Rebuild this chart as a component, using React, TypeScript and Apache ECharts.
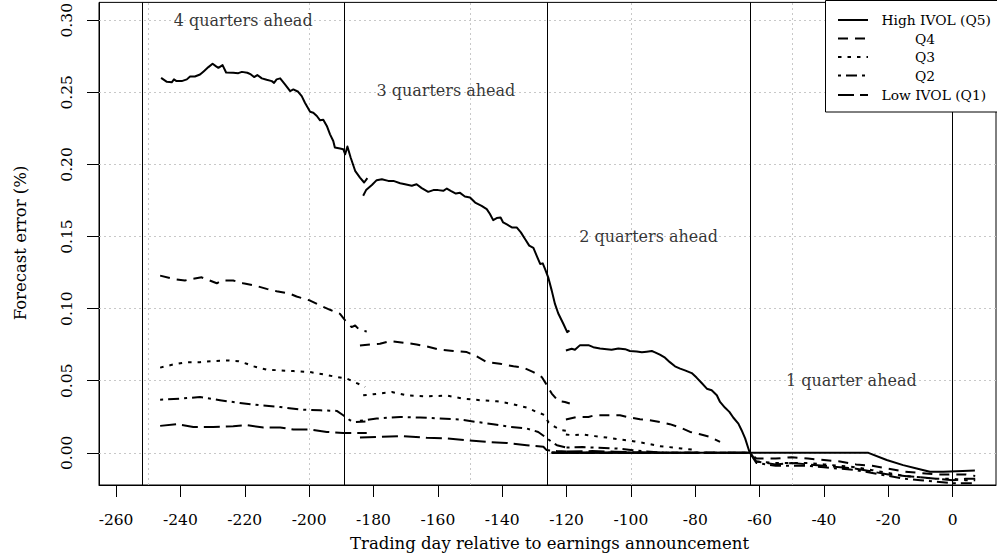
import React, { useEffect, useRef } from 'react';
import * as echarts from 'echarts';

const FONT = "'DejaVu Serif', serif";

// axis ticks, grid lines and quarter boundaries (trading days)
const X_TICKS = [-260, -240, -220, -200, -180, -160, -140, -120, -100, -80, -60, -40, -20, 0];
const X_GRID = [-250, -200, -150, -100, -50, 0];
const Y_TICKS = [0, 0.05, 0.1, 0.15, 0.2, 0.25, 0.3];
const QUARTER_BOUNDS = [-252, -189, -126, -63, 0];

const ANNOT_TEXT = ['4 quarters ahead', '3 quarters ahead', '2 quarters ahead', '1 quarter ahead'];
const ANNOT_X = [-220.5, -157.5, -94.5, -31.5];
const ANNOT_Y = [0.3, 0.251, 0.15, 0.05];

// High IVOL (Q5)
const q5A = [[-246, 0.26], [-244.2, 0.2573], [-242.7, 0.257], [-242, 0.259], [-241.2, 0.2578], [-239.6, 0.2578], [-238, 0.259], [-237, 0.261], [-235.5, 0.261], [-233.9, 0.2624], [-232.7, 0.2647], [-231.3, 0.2675], [-230, 0.2698], [-228.9, 0.268], [-228.2, 0.267], [-226.9, 0.2689], [-225.8, 0.2638], [-223.6, 0.2636], [-222, 0.2633], [-220.9, 0.2642], [-219.2, 0.2636], [-218.1, 0.2624], [-217.1, 0.2606], [-216.1, 0.262], [-214.7, 0.2597], [-213.2, 0.2587], [-211.6, 0.2578], [-210.9, 0.2566], [-210.1, 0.259], [-209, 0.2597], [-207.5, 0.2555], [-205.9, 0.2509], [-204.9, 0.252], [-203.4, 0.2504], [-202.3, 0.2474], [-201.3, 0.2428], [-199.7, 0.2366], [-198.7, 0.2359], [-197.6, 0.2336], [-196.6, 0.2306], [-195.6, 0.231], [-194.5, 0.2267], [-193.5, 0.2209], [-192.5, 0.2163], [-192, 0.2117], [-190.4, 0.211], [-189.4, 0.2106], [-188.8, 0.2071], [-188.1, 0.2124], [-187.1, 0.2048], [-185.7, 0.1956], [-184.2, 0.1909], [-182.9, 0.1875], [-181.9, 0.1905]];
const q5B = [[-183.2, 0.1783], [-182.3, 0.1822], [-180.5, 0.1857], [-179, 0.1891], [-177.4, 0.1898], [-175.4, 0.1886], [-173.8, 0.1886], [-171.7, 0.187], [-170.2, 0.1863], [-168.1, 0.1852], [-166.6, 0.1863], [-165, 0.1836], [-163, 0.181], [-161.4, 0.1822], [-159.9, 0.1822], [-158.3, 0.1817], [-157.2, 0.1833], [-156, 0.1817], [-154.4, 0.1798], [-153.1, 0.1803], [-151.6, 0.1778], [-150, 0.1771], [-148.4, 0.1736], [-146.4, 0.1713], [-144.8, 0.169], [-143.8, 0.1656], [-142.8, 0.1614], [-141.7, 0.1628], [-140.5, 0.1632], [-139.7, 0.1598], [-138.4, 0.1582], [-137, 0.1563], [-135.5, 0.1563], [-134.2, 0.1529], [-132.9, 0.1483], [-131.6, 0.1437], [-130.3, 0.1421], [-129.3, 0.1368], [-128.2, 0.131], [-127.4, 0.1314], [-126.7, 0.1276], [-125.7, 0.1217], [-124.6, 0.1125], [-123.6, 0.1033], [-122.6, 0.0968], [-121, 0.0895], [-119.8, 0.0837], [-119.1, 0.0849]];
const q5C = [[-120.2, 0.071], [-118.4, 0.0722], [-117.4, 0.0715], [-115.8, 0.0747], [-113.2, 0.0747], [-111.7, 0.0733], [-109.6, 0.0724], [-107.5, 0.0719], [-106, 0.0715], [-103.9, 0.0724], [-101.8, 0.0719], [-100.3, 0.0706], [-98.2, 0.0703], [-96.6, 0.0697], [-95.1, 0.0701], [-93.5, 0.0706], [-92.5, 0.0697], [-91, 0.0681], [-89.4, 0.066], [-87.9, 0.0629], [-86.3, 0.06], [-84.7, 0.0584], [-83.2, 0.0572], [-81.1, 0.0553], [-79.6, 0.0522], [-78, 0.0484], [-76.4, 0.0445], [-74.9, 0.0434], [-73.3, 0.0399], [-72.3, 0.0353], [-70.8, 0.0314], [-69.4, 0.0284], [-68.2, 0.0245], [-66.6, 0.0203], [-65.6, 0.0157], [-64.5, 0.01], [-63.5, 0.003], [-63, -0.0004]];
const q5D = [[-124.6, 0], [-26.2, 0], [-20.5, -0.005], [-15.4, -0.0085], [-11.2, -0.0108], [-7.1, -0.0131], [-2.9, -0.0131], [1.2, -0.0127], [6.9, -0.0122]];

// Q4
const q4A = [[-246.3, 0.1229], [-242.2, 0.1206], [-238.6, 0.1195], [-236.5, 0.1206], [-233.4, 0.1217], [-231.3, 0.1199], [-228.7, 0.1176], [-227.2, 0.1195], [-223.6, 0.1195], [-220.5, 0.1176], [-216.8, 0.116], [-213.2, 0.1137], [-210.1, 0.1121], [-205.9, 0.1103], [-203.9, 0.1084], [-199.7, 0.1056], [-196.6, 0.1022], [-193.5, 0.0992], [-190.4, 0.0964], [-188.8, 0.0918], [-186.8, 0.0872], [-185.7, 0.0883], [-184.2, 0.0849], [-182.1, 0.0842]];
const q4B = [[-184.2, 0.0745], [-181.1, 0.0752], [-178, 0.0757], [-174.9, 0.0775], [-170.7, 0.0764], [-166.6, 0.0752], [-163.5, 0.0738], [-159.3, 0.0715], [-155.2, 0.0706], [-151, 0.0699], [-147.9, 0.0669], [-144.8, 0.0629], [-140.7, 0.0618], [-136.5, 0.06], [-133.4, 0.0591], [-130.3, 0.056], [-127.7, 0.0526], [-126.4, 0.048], [-124.6, 0.0411], [-122.6, 0.036], [-120.5, 0.0353], [-119, 0.0342]];
const q4C = [[-120.2, 0.0231], [-116.8, 0.0249], [-113.2, 0.0249], [-111.2, 0.0261], [-107.5, 0.0261], [-103.4, 0.0261], [-100.3, 0.0245], [-97.2, 0.0233], [-94.1, 0.0226], [-91, 0.0214], [-87.9, 0.0199], [-84.7, 0.0176], [-81.6, 0.0145], [-78.5, 0.0129], [-75.4, 0.0111], [-72.3, 0.0076]];
const q4D = [[-124.6, 0], [-63, 0], [-61, -0.004], [-55, -0.004], [-50, -0.003], [-45, -0.004], [-40, -0.005], [-35, -0.006], [-30, -0.008], [-25, -0.009], [-20, -0.011], [-15, -0.013], [-10, -0.014], [-5, -0.015], [0, -0.015], [4, -0.015], [7, -0.016]];

// Q3
const q3A = [[-246.3, 0.0591], [-242.2, 0.0613], [-238, 0.0629], [-233.9, 0.0629], [-229.8, 0.0636], [-225.6, 0.0641], [-222, 0.0636], [-219.4, 0.0618], [-217.3, 0.06], [-213.2, 0.0577], [-209, 0.0572], [-204.9, 0.0567], [-199.7, 0.056], [-195.6, 0.0544], [-191.4, 0.0526], [-188.3, 0.0515], [-185.2, 0.0484], [-182.6, 0.0457]];
const q3B = [[-183.2, 0.0399], [-180.1, 0.0406], [-174.3, 0.0422], [-169.7, 0.0399], [-163.5, 0.0392], [-157.2, 0.0397], [-152.1, 0.0376], [-146.9, 0.0365], [-141.7, 0.0358], [-137.6, 0.0342], [-132.4, 0.0314], [-129.3, 0.0284], [-126.7, 0.0261], [-125.7, 0.0214], [-123.6, 0.018], [-121.5, 0.0157], [-119, 0.015]];
const q3C = [[-120.2, 0.0127], [-117.9, 0.0122], [-114.8, 0.0127], [-111.2, 0.0116], [-107.5, 0.0106], [-103.4, 0.0093], [-99.3, 0.0081], [-95.1, 0.0065], [-91, 0.0046], [-86.8, 0.0037], [-84.2, 0.003], [-80, 0.002]];
const q3D = [[-124.6, 0], [-63, 0], [-61, -0.006], [-55, -0.007], [-50, -0.007], [-45, -0.007], [-40, -0.008], [-35, -0.009], [-30, -0.01], [-25, -0.012], [-20, -0.014], [-15, -0.016], [-10, -0.017], [-5, -0.018], [0, -0.018], [4, -0.019], [7, -0.019]];

// Q2
const q2A = [[-246.3, 0.0369], [-240.1, 0.0376], [-233.9, 0.0387], [-227.7, 0.0365], [-221.5, 0.0346], [-215.3, 0.033], [-209, 0.0318], [-202.8, 0.03], [-196.6, 0.0295], [-191.4, 0.0291], [-189.4, 0.0261], [-187.3, 0.0226], [-185.7, 0.0214], [-182.5, 0.0218]];
const q2B = [[-184.2, 0.0222], [-179, 0.0238], [-171.7, 0.0249], [-165.5, 0.0245], [-159.3, 0.0238], [-153.1, 0.0231], [-147.9, 0.0214], [-142.8, 0.0199], [-137.6, 0.018], [-132.4, 0.0169], [-128.8, 0.0145], [-126.7, 0.0111], [-124.6, 0.0076], [-123, 0.0053], [-120, 0.0037]];
const q2C = [[-120, 0.0037], [-115, 0.004], [-110, 0.0035], [-104.4, 0.003], [-100, 0.002], [-95, 0.001], [-90, 0]];
const q2D = [[-124.6, 0], [-63, 0], [-61, -0.007], [-55, -0.009], [-50, -0.009], [-45, -0.009], [-40, -0.01], [-35, -0.011], [-30, -0.012], [-25, -0.014], [-20, -0.016], [-15, -0.018], [-10, -0.019], [-5, -0.02], [0, -0.021], [4, -0.021], [7, -0.021]];

// Low IVOL (Q1)
const q1A = [[-246.3, 0.0187], [-241.1, 0.0199], [-236, 0.018], [-229.8, 0.018], [-223.6, 0.0185], [-219.4, 0.0192], [-214.2, 0.0176], [-209, 0.0176], [-204.9, 0.0162], [-199.7, 0.0162], [-194.5, 0.0145], [-189.4, 0.0138], [-185.2, 0.0138], [-182.1, 0.0138]];
const q1B = [[-184.2, 0.0106], [-178, 0.0111], [-170.7, 0.0116], [-163.5, 0.0104], [-157.2, 0.01], [-151, 0.0088], [-144.8, 0.0076], [-138.6, 0.0069], [-132.4, 0.0053], [-127.2, 0.0042], [-126.2, 0.0019], [-123, 0.0012], [-120, 0.001]];
const q1C = [[-120, 0.001], [-112, 0.0012], [-105, 0.0008], [-100, 0.0004], [-95, 0]];
const q1D = [[-124.6, 0], [-63, 0], [-61, -0.006], [-55, -0.008], [-50, -0.007], [-45, -0.008], [-40, -0.009], [-35, -0.01], [-30, -0.011], [-25, -0.013], [-20, -0.015], [-15, -0.016], [-10, -0.017], [-5, -0.018], [0, -0.019], [4, -0.018], [7, -0.018]];

const QUINTILES = [
  { name: 'High IVOL (Q5)', dash: 'solid' as any, segments: [q5A, q5B, q5C, q5D] },
  { name: 'Q4', dash: [10, 7], segments: [q4A, q4B, q4C, q4D] },
  { name: 'Q3', dash: [3.5, 6], segments: [q3A, q3B, q3C, q3D] },
  { name: 'Q2', dash: [3, 5, 11, 5], segments: [q2A, q2B, q2C, q2D] },
  { name: 'Low IVOL (Q1)', dash: [16, 6], segments: [q1A, q1B, q1C, q1D] },
];

export default function App() {
  const chartRef = useRef<HTMLDivElement>(null);

  useEffect(() => {
    if (!chartRef.current) return;
    const chart = echarts.init(chartRef.current, null, { renderer: 'svg' });

    const lineSeries: any[] = [];
    QUINTILES.forEach(q => {
      q.segments.forEach((seg, i) => {
        lineSeries.push({
          name: q.name + ' ' + i,
          type: 'line',
          data: seg,
          showSymbol: false,
          symbol: 'none',
          lineStyle: { color: '#000', width: 2, type: q.dash, cap: 'butt', join: 'round' },
          z: 5,
        });
      });
    });

    // legend drawn by hand (R style)
    const legendLeft = 825.5;
    const legendRows = [20, 38.5, 57, 75.5, 95];
    const legendGraphics: any[] = [
      {
        type: 'rect',
        shape: { x: legendLeft, y: 0.5, width: 200, height: 111.5 },
        style: { fill: '#fff', stroke: '#000', lineWidth: 1 },
        z: 100,
      },
    ];
    QUINTILES.forEach((q, i) => {
      legendGraphics.push({
        type: 'line',
        shape: { x1: 838, y1: legendRows[i], x2: 868, y2: legendRows[i] },
        style: {
          stroke: '#000',
          lineWidth: 2,
          lineDash: q.dash === 'solid' ? null : q.dash,
          lineCap: 'butt',
        },
        z: 101,
      });
      const centered = i > 0 && i < 4;
      legendGraphics.push({
        type: 'text',
        x: centered ? 925 : 881.5,
        y: legendRows[i],
        style: {
          text: q.name,
          font: `13.8px ${FONT}`,
          fill: '#000',
          textAlign: centered ? 'center' : 'left',
          textVerticalAlign: 'middle',
        },
        z: 101,
      });
    });

    const option: echarts.EChartsOption = {
      animation: false,
      backgroundColor: '#fff',
      textStyle: { fontFamily: FONT },
      grid: {
        left: 99,
        right: 1,
        top: 1,
        bottom: 73,
        show: true,
        borderColor: '#000',
        borderWidth: 1,
        backgroundColor: 'transparent',
      },
      xAxis: {
        type: 'value',
        min: -265.3,
        max: 13.46,
        axisLine: { show: true, onZero: false, lineStyle: { color: '#000', width: 1 } },
        axisTick: { show: true, length: 12, inside: false, customValues: X_TICKS, lineStyle: { color: '#000' } },
        axisLabel: {
          customValues: X_TICKS,
          color: '#000',
          fontFamily: FONT,
          fontSize: 15.5,
          margin: 27,
          formatter: (v: number) => String(v),
        },
        splitLine: { show: false },
      },
      yAxis: {
        type: 'value',
        min: -0.0223,
        max: 0.3124,
        axisLine: { show: true, onZero: false, lineStyle: { color: '#000', width: 1 } },
        axisTick: { show: true, length: 12, inside: false, customValues: Y_TICKS, lineStyle: { color: '#000' } },
        axisLabel: {
          customValues: Y_TICKS,
          color: '#000',
          fontFamily: FONT,
          fontSize: 15.5,
          rotate: 90,
          margin: 24,
          formatter: (v: number) => v.toFixed(2),
        },
        splitLine: { show: false },
      },
      graphic: [
        {
          type: 'text',
          x: 549.5,
          y: 543,
          style: {
            text: 'Trading day relative to earnings announcement',
            font: `16.5px ${FONT}`,
            fill: '#000',
            textAlign: 'center',
            textVerticalAlign: 'middle',
          },
        },
        {
          type: 'text',
          x: 20,
          y: 243,
          rotation: Math.PI / 2,
          style: {
            text: 'Forecast error (%)',
            font: `16.5px ${FONT}`,
            fill: '#000',
            textAlign: 'center',
            textVerticalAlign: 'middle',
          },
        },
        ...legendGraphics,
      ],
      series: [
        {
          name: 'grid',
          type: 'line',
          data: [],
          silent: true,
          z: 1,
          markLine: {
            silent: true,
            symbol: ['none', 'none'],
            label: { show: false },
            lineStyle: { color: '#c8c8c8', width: 1, type: [2, 3] },
            data: [
              ...X_GRID.map(v => ({ xAxis: v })),
              ...Y_TICKS.map(v => ({ yAxis: v })),
            ],
          },
        },
        {
          name: 'bounds',
          type: 'line',
          data: [],
          silent: true,
          z: 2,
          markLine: {
            silent: true,
            symbol: ['none', 'none'],
            label: { show: false },
            lineStyle: { color: '#000', width: 1, type: 'solid' },
            data: QUARTER_BOUNDS.map(v => ({ xAxis: v })),
          },
        },
        {
          name: 'annotations',
          type: 'scatter',
          symbolSize: 0,
          silent: true,
          data: ANNOT_TEXT.map((t, i) => [ANNOT_X[i], ANNOT_Y[i], t]),
          label: {
            show: true,
            position: 'inside',
            color: '#000',
            fontFamily: FONT,
            fontSize: 16,
            formatter: (p: any) => p.data[2],
          },
          z: 6,
        },
        ...lineSeries,
      ],
    };

    chart.setOption(option);
    return () => chart.dispose();
  }, []);

  return (
    <div
      ref={chartRef}
      style={{ position: 'fixed', left: 0, top: 0, width: 997, height: 558, background: '#fff' }}
    />
  );
}
